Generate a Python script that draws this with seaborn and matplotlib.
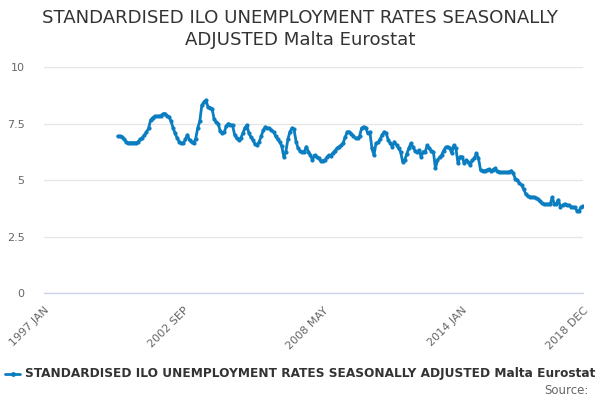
import numpy as np
import pandas as pd
import matplotlib
matplotlib.use("Agg")
import matplotlib.pyplot as plt
import seaborn as sns

title = "STANDARDISED ILO UNEMPLOYMENT RATES SEASONALLY\nADJUSTED Malta Eurostat"
series_name = "STANDARDISED ILO UNEMPLOYMENT RATES SEASONALLY ADJUSTED Malta Eurostat"

# category axis: monthly, 1997 JAN .. 2018 DEC (264 categories)
axis_start_year = 1997
axis_end_year = 2018
data_start_index = 36  # 2000 JAN

values = [
    6.94, 6.94, 6.92, 6.80, 6.70, 6.65, 6.65, 6.65, 6.65, 6.65, 6.70, 6.80,
    6.88, 6.98, 7.12, 7.28, 7.65, 7.75, 7.82, 7.82, 7.82, 7.85, 7.92, 7.94,
    7.85, 7.80, 7.60, 7.30, 7.06, 6.85, 6.70, 6.64, 6.62, 6.80, 7.00, 6.76,
    6.68, 6.62, 6.82, 7.30, 7.60, 8.30, 8.45, 8.53, 8.24, 8.20, 8.16, 7.70,
    7.55, 7.50, 7.15, 7.06, 7.13, 7.40, 7.50, 7.45, 7.43, 7.00, 6.84, 6.76,
    6.85, 7.06, 7.30, 7.43, 7.06, 6.90, 6.76, 6.58, 6.54, 6.69, 6.95, 7.20,
    7.35, 7.30, 7.28, 7.20, 7.13, 6.95, 6.80, 6.69, 6.50, 6.03, 6.25, 6.80,
    7.13, 7.30, 7.24, 6.70, 6.40, 6.28, 6.25, 6.25, 6.47, 6.25, 6.10, 5.88,
    6.10, 6.00, 5.96, 5.84, 5.86, 5.88, 6.00, 6.10, 6.06, 6.20, 6.30, 6.40,
    6.48, 6.54, 6.65, 6.90, 7.13, 7.13, 7.05, 6.95, 6.84, 6.84, 6.95, 7.30,
    7.35, 7.32, 7.06, 7.13, 6.40, 6.10, 6.62, 6.66, 6.80, 7.00, 7.13, 7.06,
    6.76, 6.62, 6.47, 6.69, 6.55, 6.40, 6.25, 5.81, 5.88, 6.15, 6.40, 6.62,
    6.47, 6.30, 6.25, 6.32, 6.03, 6.25, 6.25, 6.54, 6.40, 6.30, 6.25, 5.51,
    5.88, 6.00, 6.10, 6.30, 6.45, 6.47, 6.40, 6.18, 6.54, 6.40, 5.74, 6.03,
    6.03, 5.74, 5.88, 5.80, 5.66, 5.88, 5.96, 6.18, 5.96, 5.44, 5.42, 5.41,
    5.44, 5.47, 5.40, 5.45, 5.51, 5.40, 5.37, 5.34, 5.34, 5.34, 5.34, 5.36,
    5.41, 5.29, 5.05, 5.00, 4.85, 4.78, 4.60, 4.40, 4.29, 4.26, 4.24, 4.24,
    4.22, 4.15, 4.05, 3.97, 3.93, 3.93, 3.93, 3.93, 4.24, 3.93, 3.95, 4.12,
    3.82, 3.88, 3.94, 3.90, 3.88, 3.82, 3.80, 3.79, 3.65, 3.62, 3.80, 3.85,
]

y_ticks = [0, 2.5, 5, 7.5, 10]
y_tick_labels = ["0", "2.5", "5", "7.5", "10"]
x_label_texts = ["1997 JAN", "2002 SEP", "2008 MAY", "2014 JAN", "2018 DEC"]
x_label_positions = [0, 68, 136, 204, 263]

months = ["JAN", "FEB", "MAR", "APR", "MAY", "JUN", "JUL", "AUG", "SEP", "OCT", "NOV", "DEC"]
categories = [f"{y} {m}" for y in range(axis_start_year, axis_end_year + 1) for m in months]
n_cat = len(categories)

df = pd.DataFrame({
    "idx": np.arange(data_start_index, data_start_index + len(values)),
    "value": values,
})

sns.set_theme(style="white")
plt.rcParams["font.family"] = ["DejaVu Sans"]

fig = plt.figure(figsize=(6, 4), dpi=100)
ax = fig.add_axes([44 / 600, 1 - 293 / 400, (583 - 44) / 600, (293 - 67) / 400])

blue = "#0b7dc1"
sns.lineplot(data=df, x="idx", y="value", ax=ax, color=blue, linewidth=2.0,
             marker="o", markersize=3.0, markeredgewidth=0, legend=False)

ax.set_xlim(0, n_cat - 1)
ax.set_ylim(0, 10)
ax.set_xlabel("")
ax.set_ylabel("")

ax.set_yticks(y_ticks)
ax.set_yticklabels(y_tick_labels, color="#666666", fontsize=8)
ax.tick_params(axis="y", length=0, pad=14)
ax.grid(axis="y", color="#e6e6e6", linewidth=1)
ax.grid(axis="x", visible=False)

# tick marks every 17 categories plus end; labels at selected positions
tick_positions = list(range(0, n_cat, 17)) + [n_cat - 1]
ax.set_xticks(tick_positions)
ax.set_xticklabels([""] * len(tick_positions))
ax.tick_params(axis="x", length=10, width=1, color="#ccd6eb", direction="out", pad=2)
for pos, lab in zip(x_label_positions, x_label_texts):
    ax.text(pos, -0.55, lab, rotation=45, ha="right", va="top", fontsize=8,
            color="#666666", rotation_mode="anchor", transform=ax.transData)

for s in ["top", "right", "left"]:
    ax.spines[s].set_visible(False)
ax.spines["bottom"].set_color("#ccd6eb")
ax.spines["bottom"].set_linewidth(1)

fig.text(0.5, 1 - 29 / 400, title, ha="center", va="center", fontsize=13.1,
         color="#333333", linespacing=1.22)

# legend
ly = 1 - 374 / 400
fig.add_artist(plt.Line2D([5 / 600, 20 / 600], [ly, ly], color=blue, linewidth=2))
fig.add_artist(plt.Line2D([12.5 / 600], [ly], color=blue, marker="o",
                          markersize=3.5, markeredgewidth=0, linestyle="none"))
fig.text(25 / 600, ly, series_name, ha="left", va="center",
         fontsize=8.7, fontweight="bold", color="#333333")
fig.text(589 / 600, 1 - 390 / 400, "Source:", ha="right", va="center",
         fontsize=8.5, color="#666666")

fig.savefig("out.png", dpi=100)
